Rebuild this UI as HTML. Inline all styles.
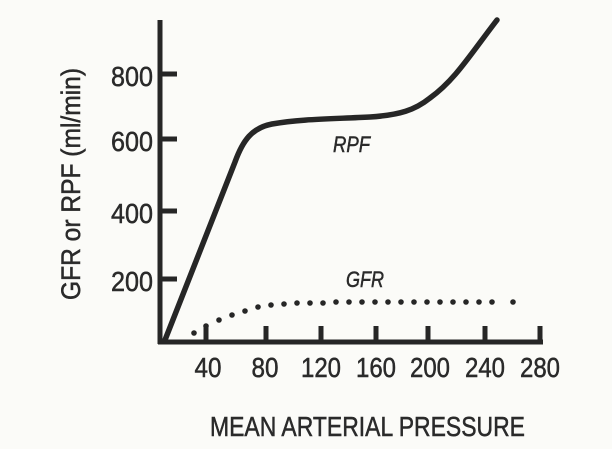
<!DOCTYPE html>
<html><head><style>
html,body{margin:0;padding:0;background:#fbfbf8;}
svg{display:block;}
text{font-family:"Liberation Sans",sans-serif;fill:#2a2a2a;stroke:#2a2a2a;stroke-width:0.5;}
</style></head><body>
<svg width="612" height="449" viewBox="0 0 612 449">
<rect width="612" height="449" fill="#fbfbf8"/>
<g stroke="#262626" stroke-width="5" fill="none" stroke-linecap="butt">
<line x1="160" y1="20" x2="160" y2="344"/>
<line x1="158" y1="342" x2="543" y2="342"/>
<line x1="160" y1="74" x2="177" y2="74"/>
<line x1="160" y1="139" x2="177" y2="139"/>
<line x1="160" y1="211" x2="177" y2="211"/>
<line x1="160" y1="279" x2="177" y2="279"/>
<line x1="206" y1="326" x2="206" y2="342"/>
<line x1="266" y1="326" x2="266" y2="342"/>
<line x1="321" y1="326" x2="321" y2="342"/>
<line x1="376" y1="326" x2="376" y2="342"/>
<line x1="428" y1="326" x2="428" y2="342"/>
<line x1="485" y1="326" x2="485" y2="342"/>
<line x1="540" y1="326" x2="540" y2="342"/>
<path d="M165,340 L235,162 C243,140 252,128 272,124 C300,119 330,119 370,117 C400,115 415,110 430,98 C455,80 470,55 497,20" stroke-width="5.5" stroke-linecap="round"/>
</g>
<g fill="#262626">
<circle cx="194" cy="333" r="2.8"/><circle cx="206" cy="326" r="2.8"/><circle cx="219" cy="320" r="2.8"/>
<circle cx="232" cy="315" r="2.8"/><circle cx="245" cy="311" r="2.8"/><circle cx="258" cy="307" r="2.8"/>
<circle cx="271" cy="305" r="2.8"/><circle cx="284" cy="304" r="2.8"/><circle cx="297" cy="303" r="2.8"/>
<circle cx="310" cy="303" r="2.8"/><circle cx="323" cy="303" r="2.8"/><circle cx="336" cy="302" r="2.8"/>
<circle cx="349" cy="302" r="2.8"/><circle cx="362" cy="302" r="2.8"/><circle cx="375" cy="302" r="2.8"/>
<circle cx="388" cy="302" r="2.8"/><circle cx="401" cy="302" r="2.8"/><circle cx="414" cy="302" r="2.8"/>
<circle cx="427" cy="302" r="2.8"/><circle cx="440" cy="302" r="2.8"/><circle cx="453" cy="302" r="2.8"/>
<circle cx="466" cy="302" r="2.8"/><circle cx="479" cy="302" r="2.8"/><circle cx="492" cy="302" r="2.8"/>
<circle cx="513" cy="302" r="2.8"/>
</g>
<g font-size="28" text-anchor="end">
<text x="153" y="86" textLength="42" lengthAdjust="spacingAndGlyphs">800</text>
<text x="153" y="151" textLength="42" lengthAdjust="spacingAndGlyphs">600</text>
<text x="153" y="223" textLength="42" lengthAdjust="spacingAndGlyphs">400</text>
<text x="153" y="291" textLength="42" lengthAdjust="spacingAndGlyphs">200</text>
</g>
<g font-size="28" text-anchor="middle">
<text x="208" y="377" textLength="27" lengthAdjust="spacingAndGlyphs">40</text>
<text x="265" y="377" textLength="27" lengthAdjust="spacingAndGlyphs">80</text>
<text x="321" y="377" textLength="40" lengthAdjust="spacingAndGlyphs">120</text>
<text x="376" y="377" textLength="40" lengthAdjust="spacingAndGlyphs">160</text>
<text x="430" y="377" textLength="40" lengthAdjust="spacingAndGlyphs">200</text>
<text x="485" y="377" textLength="40" lengthAdjust="spacingAndGlyphs">240</text>
<text x="540" y="377" textLength="40" lengthAdjust="spacingAndGlyphs">280</text>
</g>
<text x="210" y="436" font-size="28" textLength="315" lengthAdjust="spacingAndGlyphs">MEAN ARTERIAL PRESSURE</text>
<text transform="translate(80,300) rotate(-90)" font-size="27" textLength="232" lengthAdjust="spacingAndGlyphs">GFR or RPF (ml/min)</text>
<text x="333" y="152" font-size="22" font-style="italic" textLength="37" lengthAdjust="spacingAndGlyphs">RPF</text>
<text x="346" y="287" font-size="22" font-style="italic" textLength="38" lengthAdjust="spacingAndGlyphs">GFR</text>
</svg>
</body></html>
